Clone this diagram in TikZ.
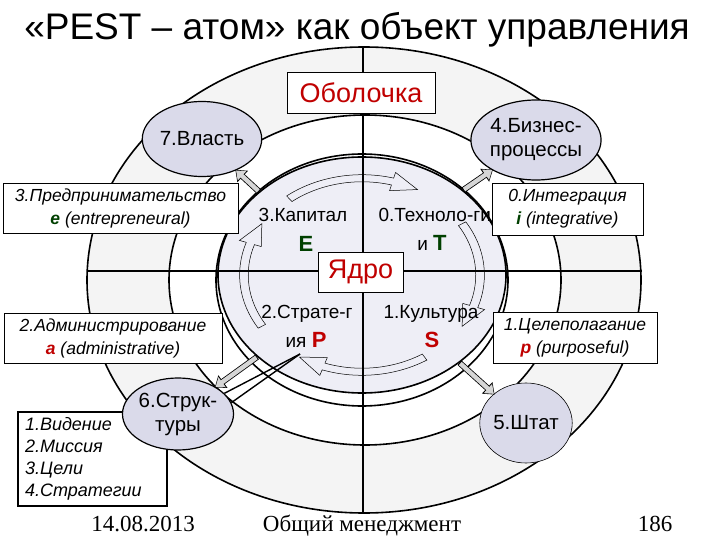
\documentclass[tikz,border=0pt]{standalone}
\usepackage{fontspec}
\setmainfont{Liberation Sans}
\newfontfamily\footfont{Liberation Serif}
\usetikzlibrary{shapes.geometric, arrows.meta, positioning}
\definecolor{mydarkred}{RGB}{192,0,0}
\definecolor{mydarkgreen}{RGB}{0,64,0}
\definecolor{mygray}{RGB}{244,244,244}
\definecolor{mycore}{RGB}{238,238,246}
\definecolor{mycirc}{RGB}{218,218,234}
\definecolor{myarrow}{RGB}{214,214,214}
\tikzstyle{ring} = [line width=1.6pt]
\tikzstyle{orbit} = [ellipse, draw, line width=1.2pt, fill=mycirc, inner sep=0pt, align=center, font=\fontsize{20.5}{24}\selectfont]
\tikzstyle{infobox} = [draw, fill=white, line width=0.8pt, inner sep=0pt, align=center, font=\fontsize{17.5}{23}\selectfont\itshape]
\tikzstyle{listbox} = [draw, fill=white, line width=2pt, inner xsep=7pt, inner ysep=0pt, text width=135pt, minimum height=94pt, align=left, font=\fontsize{18}{22}\selectfont\itshape]
\tikzstyle{quadtext} = [font=\fontsize{19}{24}\selectfont]
\tikzstyle{namebox} = [draw, fill=white, line width=0.8pt, text=mydarkred, font=\fontsize{27}{30}\selectfont, inner sep=0pt]
\tikzstyle{hollow} = [line width=0.5pt]
\tikzstyle{blockarrow} = [line width=4.4pt, draw=myarrow, shorten <=1pt, -{Triangle[length=8pt,width=12pt]}, preaction={draw=black, line width=6pt, shorten <=0pt, shorten >=-1pt, -{Triangle[length=10pt,width=15pt]}}]
\tikzstyle{footer} = [anchor=base, font=\footfont\fontsize{23}{26}\selectfont]
\newcommand{\bigletter}[2]{\textbf{\fontsize{22}{24}\selectfont\color{#1}#2}}

\begin{document}
\begin{tikzpicture}[x=1pt, y=-1pt]
    \useasboundingbox (0,0) rectangle (720,540);
    \node[font=\fontsize{37}{40}\selectfont] (title) at (357,30) {«PEST – атом» как объект управления};
    \draw[ring, fill=mygray] (364,280) ellipse [x radius=277, y radius=233];
    \draw[ring, fill=white] (365,280) ellipse [x radius=196, y radius=165];
    \draw[ring] (362,280) ellipse [x radius=146, y radius=126];
    \node[ellipse, draw, line width=1.6pt, fill=mycore, minimum width=288pt, minimum height=236pt, inner sep=0pt] (core) at (362,275) {};
    \draw[ring] (363,47) -- (363,513);
    \draw[ring] (87,271) -- (642,271);
    \foreach \s/\e [evaluate=\e as \m using \e-13] in {-128/-62, -32/32, 58/122, 148/212}
        \draw[hollow, shift={(core.center)}] (\s:{144*0.79} and {118*0.79}) arc[start angle=\s, end angle=\m, x radius=144*0.79, y radius=118*0.79] -- (\m:{144*0.74} and {118*0.74}) -- (\e:{144*0.82} and {118*0.82}) -- (\m:{144*0.90} and {118*0.90}) -- (\m:{144*0.85} and {118*0.85}) arc[start angle=\m, end angle=\s, x radius=144*0.85, y radius=118*0.85] -- cycle;
    \node[quadtext] (capital) at (303,215) {3.Капитал};
    \node[quadtext] (capitalE) at (306,244) {\bigletter{mydarkgreen}{E}};
    \node[quadtext, anchor=west] (tech) at (375,215) {0.Техноло-гии};
    \node[quadtext] (techT) at (432,243) {и \bigletter{mydarkgreen}{T}};
    \node[quadtext] (strat) at (307,314) {2.Страте-г};
    \node[quadtext] (stratP) at (306,340) {ия \bigletter{mydarkred}{P}};
    \node[quadtext] (cult) at (431,314) {1.Культура};
    \node[quadtext] (cultS) at (432,340) {\bigletter{mydarkred}{S}};
    \node[namebox, minimum width=148pt, minimum height=41pt] (shell) at (361,92.5) {Оболочка};
    \node[namebox, minimum width=85pt, minimum height=40pt] (nucleus) at (360.5,272) {Ядро};
    \node[listbox] (goals) at (92.5,459) {1.Видение\\2.Миссия\\3.Цели\\4.Стратегии};
    \node[orbit, minimum width=102pt, minimum height=75pt] (power) at (202,139) {7.Власть};
    \node[orbit, minimum width=113pt, minimum height=80pt] (business) at (536,140) {4.Бизнес-\\процессы};
    \node[orbit, minimum width=99pt, minimum height=72pt] (struct) at (178,414) {6.Струк-\\туры};
    \node[orbit, line width=0.6pt, minimum width=85pt, minimum height=80pt] (staff) at (526,423) {5.Штат};
    \draw[blockarrow] (core.141) -- (power);
    \draw[blockarrow] (core.40) -- (business);
    \draw[blockarrow] (core.218) -- (struct);
    \draw[blockarrow] (core.-42) -- (staff);
    \coordinate (pointer) at (300,354);
    \draw[line width=1.4pt] (pointer) -- (struct.24);
    \draw[line width=1.4pt] (pointer) -- (struct.12);
    \node[infobox, minimum width=235pt, minimum height=50pt] (entre) at (120.5,208) {3.Предпринимательство\\\textbf{\color{mydarkgreen}e} (entrepreneural)};
    \node[infobox, minimum width=218pt, minimum height=50pt] (admin) at (113,338) {2.Администрирование\\\textbf{\color{mydarkred}a} (administrative)};
    \node[infobox, minimum width=151pt, minimum height=52pt] (integ) at (567.5,209) {0.Интеграция\\\textbf{\color{mydarkgreen}i} (integrative)};
    \node[infobox, minimum width=164pt, minimum height=51pt] (purp) at (575,337.5) {1.Целеполагание\\\textbf{\color{mydarkred}p} (purposeful)};
    \node[footer] (date) at (143,531) {14.08.2013};
    \node[footer] (course) at (362,531) {Общий менеджмент};
    \node[footer] (page) at (655,531) {186};
\end{tikzpicture}
\end{document}
